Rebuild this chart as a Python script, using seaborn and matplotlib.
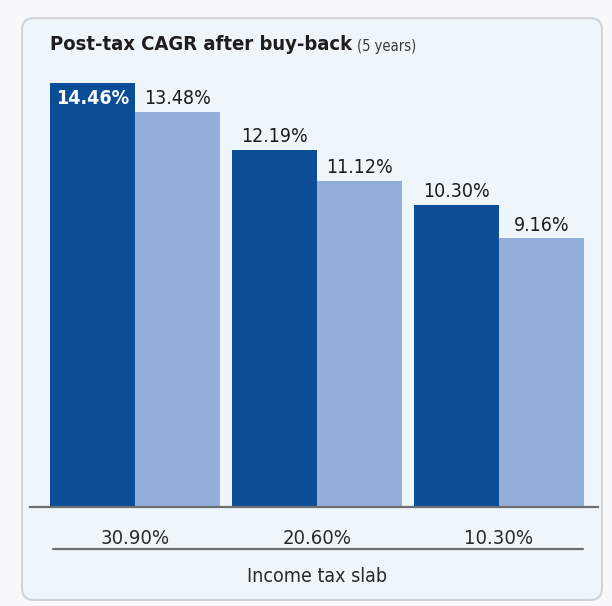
import matplotlib
matplotlib.use('Agg')
import matplotlib.pyplot as plt
import seaborn as sns
import pandas as pd
from matplotlib.patches import FancyBboxPatch
from matplotlib.lines import Line2D

# ---- data ----
slabs = ['30.90%', '20.60%', '10.30%']
series_names = ['Scenario 1', 'Scenario 2']
dark_values = [14.46, 12.19, 10.30]
light_values = [13.48, 11.12, 9.16]
title_main = 'Post-tax CAGR after buy-back'
title_sub = '(5 years)'
x_title = 'Income tax slab'

DARK = '#0c4d98'
LIGHT = '#94aeda'
FONT = ['DejaVu Sans']
STRETCH = 'condensed'

df = pd.DataFrame({
    'slab': slabs * 2,
    'series': [series_names[0]] * 3 + [series_names[1]] * 3,
    'cagr': dark_values + light_values,
})

sns.set_theme(style='white')
plt.rcParams['font.family'] = FONT
plt.rcParams['font.stretch'] = STRETCH

W, H = 612, 606
fig = plt.figure(figsize=(W / 100, H / 100), dpi=100)
fig.patch.set_facecolor('#f7f8f9')

# rounded panel
panel = FancyBboxPatch((22 / W, 1 - 600 / H), 580 / W, 582 / H,
                       boxstyle='round,pad=0,rounding_size=0.02',
                       transform=fig.transFigure, facecolor='#eef6fb',
                       edgecolor='#cfd5da', linewidth=1.5, zorder=-5)
fig.patches.append(panel)

base_y = 507
top_y = 60
ax = fig.add_axes([30 / W, (H - base_y) / H, 568 / W, (base_y - top_y) / H])
ax.set_facecolor('none')
ax.set_zorder(2)

sns.barplot(data=df, x='slab', y='cagr', hue='series', order=slabs,
            hue_order=series_names, palette=[DARK, LIGHT], saturation=1,
            width=0.93, dodge=True, legend=False, ax=ax, errorbar=None,
            linewidth=0, edgecolor='none')

scale = 29.32
ax.set_ylim(0, (base_y - top_y) / scale)
ax.set_xlim(-0.577, 2.544)

for s in ['top', 'right', 'left']:
    ax.spines[s].set_visible(False)
ax.spines['bottom'].set_color('#6d6f72')
ax.spines['bottom'].set_linewidth(1.6)
ax.set_yticks([])
ax.set_xlabel('')
ax.set_ylabel('')
ax.tick_params(axis='x', length=0, pad=16, labelsize=14.5, labelcolor='#2a2a2a')
for t in ax.get_xticklabels():
    t.set_family(FONT)
    t.set_fontstretch(STRETCH)

# value labels
for ci, cont in enumerate(ax.containers):
    vals = dark_values if ci == 0 else light_values
    for bar, v in zip(cont, vals):
        cx = bar.get_x() + bar.get_width() / 2
        txt = f'{v:.2f}%'
        if ci == 0 and v == max(dark_values):
            ax.text(cx, v - 0.2, txt, ha='center', va='top', color='white',
                    fontsize=14, fontweight='bold', family=FONT, fontstretch=STRETCH)
        else:
            ax.text(cx, v + 0.12, txt, ha='center', va='bottom', color='#1c1c1c',
                    fontsize=14, family=FONT, fontstretch=STRETCH)

# line under tick labels
fig.add_artist(Line2D([53 / W, 583 / W], [1 - 549 / H, 1 - 549 / H],
                      transform=fig.transFigure, color='#6d6f72', linewidth=1.6))
fig.text(317 / W, 1 - 577 / H, x_title, ha='center', va='center', fontsize=14,
         color='#2a2a2a', family=FONT, fontstretch=STRETCH)

# title
t1 = fig.text(50 / W, 1 - 45 / H, title_main, ha='left', va='center',
              fontsize=14.5, fontweight='bold', color='#1e1e1e', family=FONT,
              fontstretch=STRETCH)
fig.canvas.draw()
bb = t1.get_window_extent()
fig.text(bb.x1 / W + 5 / W, 1 - 46 / H, title_sub, ha='left', va='center',
         fontsize=10.5, color='#3a3a3a', family=FONT, fontstretch=STRETCH)

fig.savefig('out.png', dpi=100, facecolor=fig.get_facecolor())
